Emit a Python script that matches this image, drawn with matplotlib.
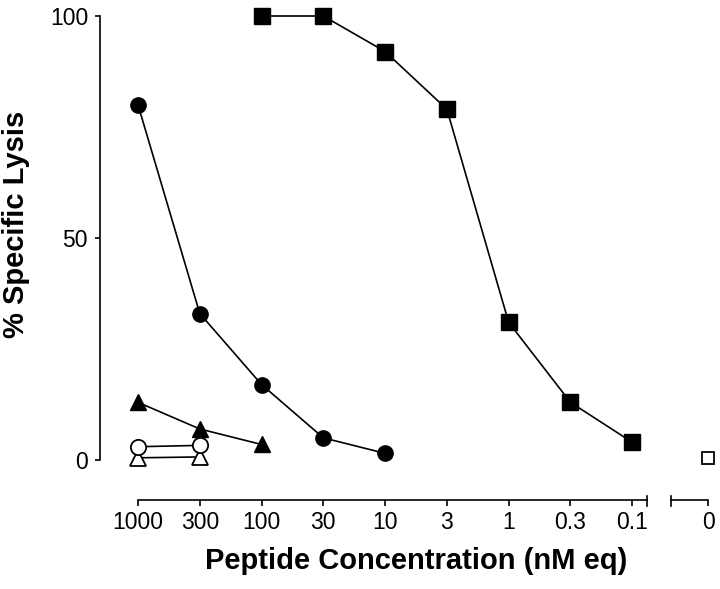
import matplotlib
matplotlib.use("Agg")
import matplotlib.pyplot as plt

plt.rcParams['font.family'] = ['Liberation Sans', 'DejaVu Sans']

# Categories (x tick labels); the last one ("0") sits after an axis break
conc_labels = ['1000', '300', '100', '30', '10', '3', '1', '0.3', '0.1', '0']
# x positions of the categories (layout)
conc_pos = [0, 1, 2, 3, 4, 5, 6, 7, 8, 9.23]

# Series: (category indices, % specific lysis)
sq_idx = [2, 3, 4, 5, 6, 7, 8]
sq_val = [100, 100, 92, 79, 31, 13, 4]

open_sq_idx = [9]
open_sq_val = [0.5]

circ_idx = [0, 1, 2, 3, 4]
circ_val = [80, 33, 17, 5, 1.5]

tri_idx = [0, 1, 2]
tri_val = [13, 7, 3.5]

open_circ_idx = [0, 1]
open_circ_val = [3.0, 3.3]

open_tri_idx = [0, 1]
open_tri_val = [0.5, 0.7]

y_ticks = [0, 50, 100]

W, H = 720, 589
fig = plt.figure(figsize=(W/100, H/100), dpi=100)
ax_l, ax_r, ax_t, ax_b = 100, 715, 16, 500
ax = fig.add_axes([ax_l/W, 1-ax_b/H, (ax_r-ax_l)/W, (ax_b-ax_t)/H])

ms = 11
lw = 1.2

def xs(idx):
    return [conc_pos[i] for i in idx]

ax.plot(xs(sq_idx), sq_val, color='black', lw=lw, marker='s', ms=ms,
        mfc='black', mec='black', clip_on=False, zorder=3)
ax.plot(xs(open_sq_idx), open_sq_val, ls='none', marker='s', ms=8.5,
        mfc='white', mec='black', mew=1.3, clip_on=False, zorder=3)
ax.plot(xs(circ_idx), circ_val, color='black', lw=lw, marker='o', ms=ms,
        mfc='black', mec='black', clip_on=False, zorder=3)
ax.plot(xs(tri_idx), tri_val, color='black', lw=lw, marker='^', ms=ms,
        mfc='black', mec='black', clip_on=False, zorder=3)
ax.plot(xs(open_tri_idx), open_tri_val, color='black', lw=lw, marker='^', ms=ms,
        mfc='white', mec='black', mew=1.3, clip_on=False, zorder=3)
ax.plot(xs(open_circ_idx), open_circ_val, color='black', lw=lw, marker='o', ms=ms,
        mfc='white', mec='black', mew=1.3, clip_on=False, zorder=4)

ax.set_xlim(-0.615, 9.34)
ax.set_ylim(-9.0, 100)

for s in ['top', 'right']:
    ax.spines[s].set_visible(False)
ax.spines['left'].set_bounds(0, 100)
ax.spines['left'].set_linewidth(1.2)
ax.spines['bottom'].set_bounds(0, 8.24)
ax.spines['bottom'].set_linewidth(1.2)

ax.set_yticks(y_ticks)
ax.set_yticklabels([str(v) for v in y_ticks])
ax.set_xticks(conc_pos)
ax.set_xticklabels(conc_labels)
ax.tick_params(axis='both', direction='out', width=1.2,
               labelsize=16.5, colors='black')
ax.tick_params(axis='x', length=4.3, pad=3.6)
ax.tick_params(axis='y', length=3.6, pad=5)

# axis break: second short segment for "0"
tr = ax.get_xaxis_transform()
up, dn = 4/(ax_b-ax_t), 6/(ax_b-ax_t)
ax.plot([8.63, conc_pos[-1]], [0, 0], color='black', lw=1.2, transform=tr, clip_on=False)
ax.plot([8.24, 8.24], [-dn, up], color='black', lw=1.2, transform=tr, clip_on=False)
ax.plot([8.63, 8.63], [-dn, up], color='black', lw=1.2, transform=tr, clip_on=False)

fig.text(24/W, 1-224/H, '% Specific Lysis', fontsize=21, fontweight='bold',
         rotation=90, rotation_mode='anchor', ha='center', va='baseline')
fig.text(416/W, 1-569/H, 'Peptide Concentration (nM eq)', fontsize=21,
         fontweight='bold', ha='center', va='baseline')

fig.savefig('out.png', dpi=100)
